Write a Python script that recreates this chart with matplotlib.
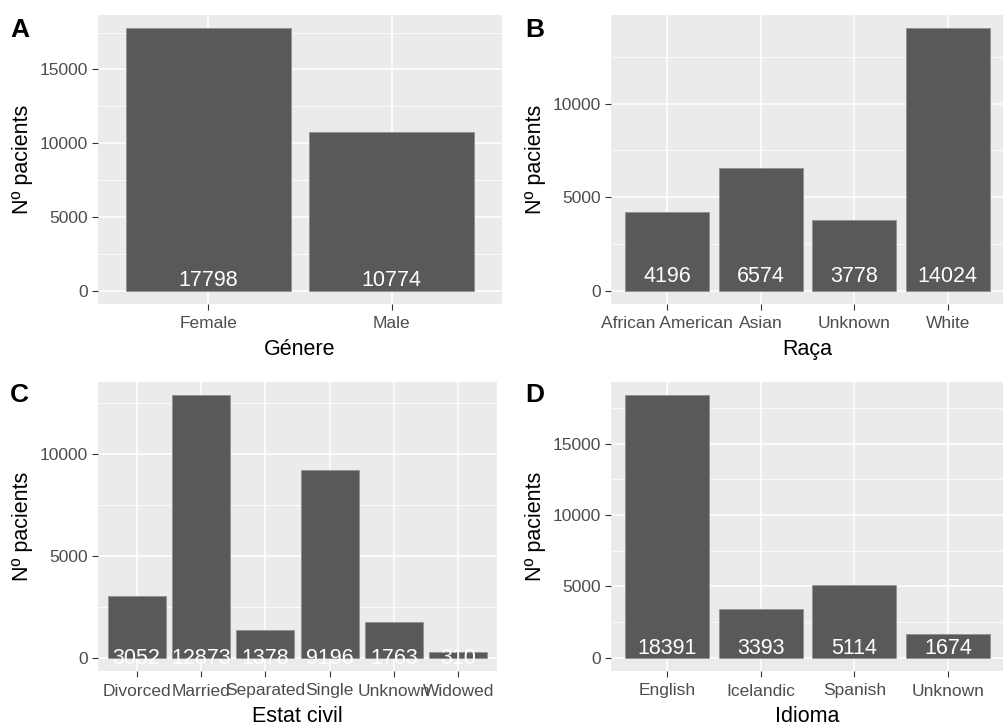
import numpy as np
import matplotlib.pyplot as plt
from matplotlib.ticker import MultipleLocator

plt.rcParams['font.family'] = ['Liberation Sans', 'DejaVu Sans']

# --- data ---
genere_cats = ["Female", "Male"]
genere_vals = [17798, 10774]

raca_cats = ["African American", "Asian", "Unknown", "White"]
raca_vals = [4196, 6574, 3778, 14024]

civil_cats = ["Divorced", "Married", "Separated", "Single", "Unknown", "Widowed"]
civil_vals = [3052, 12873, 1378, 9196, 1763, 310]

idioma_cats = ["English", "Icelandic", "Spanish", "Unknown"]
idioma_vals = [18391, 3393, 5114, 1674]

W, H = 1004, 724
BAR = "#595959"
PANEL = "#EBEBEB"


def px_axes(fig, left, top, right, bottom):
    return fig.add_axes([left / W, (H - bottom) / H, (right - left) / W, (bottom - top) / H])


def draw_panel(ax, cats, vals, xlabel, text_off):
    x = np.arange(len(cats))
    ax.set_facecolor(PANEL)
    for s in ax.spines.values():
        s.set_visible(False)
    ax.bar(x, vals, width=0.9, color=BAR, edgecolor="#8c8c8c", linewidth=0.5, zorder=3)
    vmax = max(vals)
    ax.set_ylim(-0.05 * vmax, 1.05 * vmax)
    ax.set_xlim(-0.6, len(cats) - 0.4)
    ax.yaxis.set_major_locator(MultipleLocator(5000))
    ax.yaxis.set_minor_locator(MultipleLocator(2500))
    ax.set_xticks(x)
    ax.set_xticklabels(cats)
    ax.grid(which="major", color="white", linewidth=1.1, zorder=0)
    ax.grid(which="minor", axis="y", color="white", linewidth=0.55, zorder=0)
    ax.set_axisbelow(True)
    ax.tick_params(which="major", length=4, width=0.8, color="#333333",
                   labelcolor="#4D4D4D", labelsize=12.5, pad=3)
    ax.tick_params(axis="x", which="major", pad=5)
    ax.tick_params(which="minor", length=0)
    ax.set_xlabel(xlabel, fontsize=15.5, labelpad=5.5)
    ax.set_ylabel("Nº pacients", fontsize=15.5, labelpad=5)
    for xi, v in zip(x, vals):
        ax.annotate(str(v), xy=(xi, 0), xytext=(0, text_off * 0.72),
                    textcoords="offset points", ha="center", va="baseline",
                    color="white", fontsize=15.5, zorder=4)


fig = plt.figure(figsize=(W / 100, H / 100), dpi=100)

ax_a = px_axes(fig, 98, 15, 502, 304)
ax_b = px_axes(fig, 611, 15, 1004, 304)
ax_c = px_axes(fig, 98, 382, 497, 671)
ax_d = px_axes(fig, 611, 382, 1004, 671)

draw_panel(ax_a, genere_cats, genere_vals, "Génere", 5)
draw_panel(ax_b, raca_cats, raca_vals, "Raça", 9)
draw_panel(ax_c, civil_cats, civil_vals, "Estat civil", -6)
draw_panel(ax_d, idioma_cats, idioma_vals, "Idioma", 4)

# panel letters
for letter, xp, yp in [("A", 10, 37), ("B", 525, 37), ("C", 10, 402), ("D", 525, 402)]:
    fig.text(xp / W, (H - yp) / H, letter, fontsize=19, fontweight="bold",
             ha="left", va="baseline")

fig.savefig("out.png", dpi=100)
